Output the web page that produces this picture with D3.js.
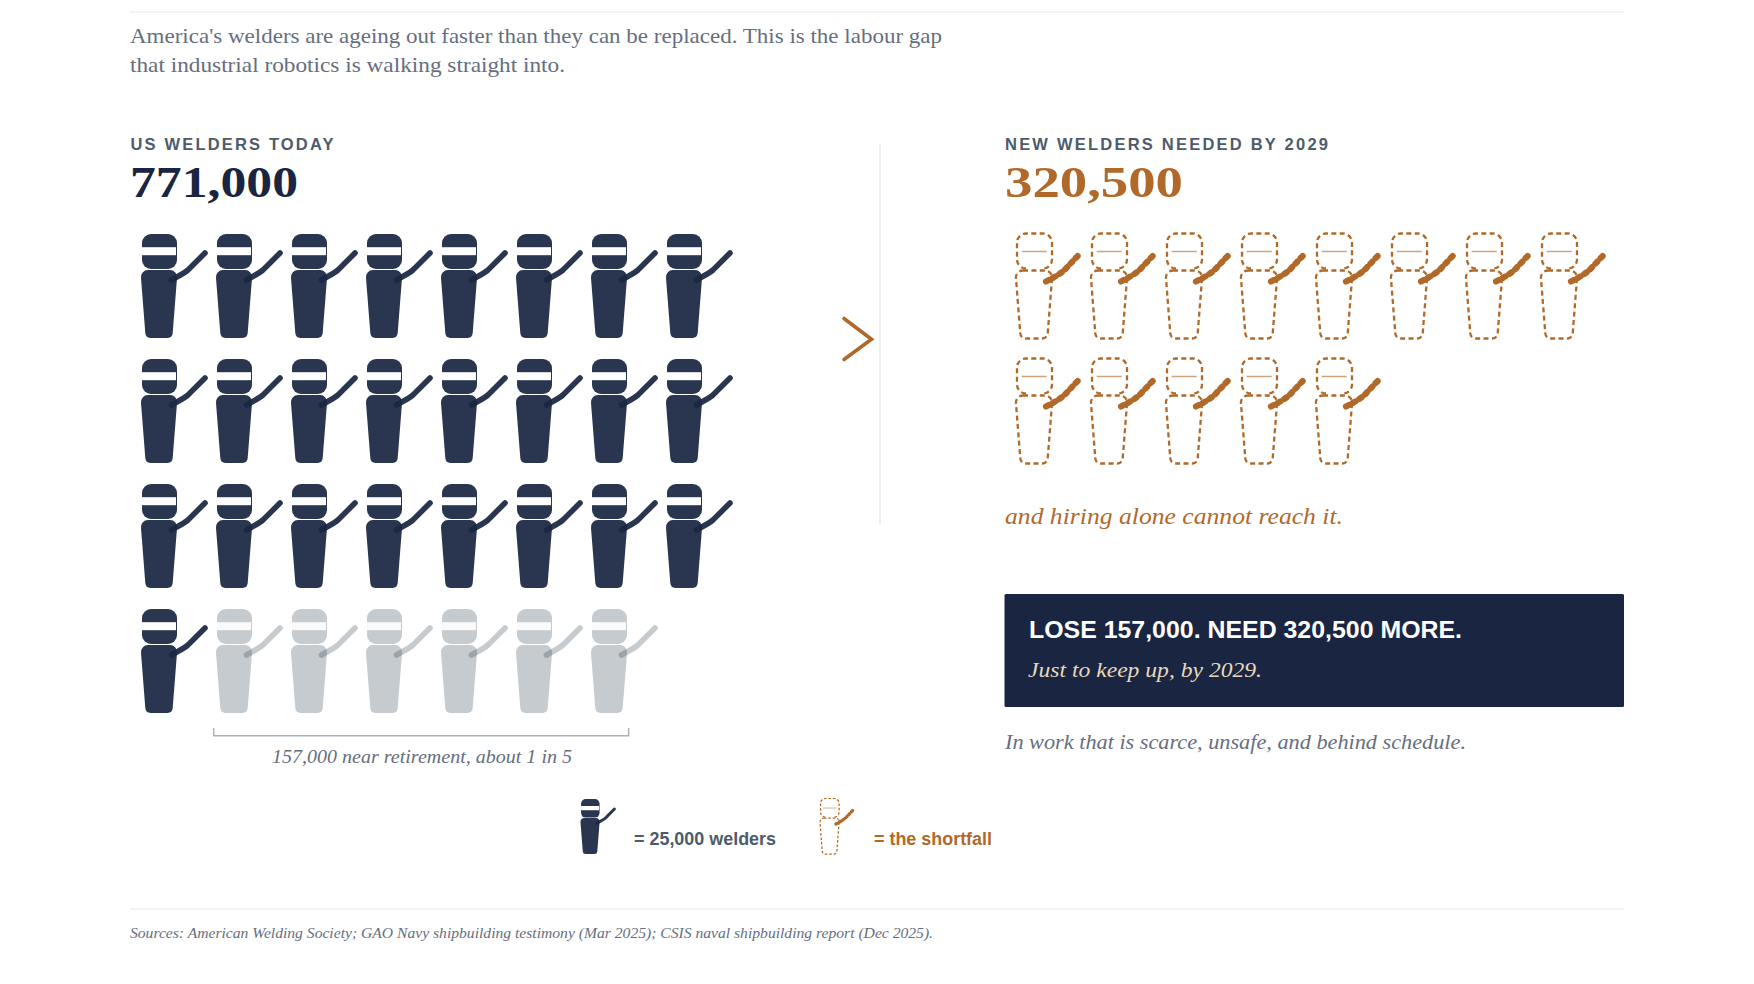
<!DOCTYPE html>
<html>
<head>
<meta charset="utf-8">
<script src="https://cdn.jsdelivr.net/npm/d3@7"></script>
<style>
  html, body { margin: 0; background: #fff; }
  svg { display: block; }
  .serif { font-family: "Liberation Serif", serif; }
  .sans { font-family: "Liberation Sans", sans-serif; font-weight: 700; }
</style>
</head>
<body>
<div id="chart"></div>
<script>
const unitSize = 25000;
const weldersToday = 771000;
const nearRetirement = 157000;
const weldersNeeded = 320500;
const perRow = 8;

const navy = "#1a2542";
const figure = "#1a2742";
const retiredFigure = "#1b2e3f";
const brown = "#b1692a";
const slate = "#4d5b6b";
const muted = "#666e80";

const svg = d3.select("#chart").append("svg")
    .attr("width", 1754)
    .attr("height", 984);

// one little welder, drawn in its own 36 x 105 box
const headPath = "M9,0H26A9,9 0 0 1 35,9V26A9,9 0 0 1 26,35H9A9,9 0 0 1 0,26V9A9,9 0 0 1 9,0Z";
const openHeadPath = "M9,35A9,9 0 0 1 0,26V9A9,9 0 0 1 9,0H26A9,9 0 0 1 35,9V26A9,9 0 0 1 26,35";
const bodyPath = "M7,0H29A7,7 0 0 1 36,8L31.7,63A5.5,5.5 0 0 1 26.5,68H9.5A5.5,5.5 0 0 1 4.3,63L0,8A7,7 0 0 1 7,0Z";
const armPath = "M30.5,46C37,42 42,40 47,36L64,19";

function solidWelder(parent, color, opacity, bandOpacity) {
    parent.append("path").attr("d", headPath)
        .attr("transform", "translate(1,0)")
        .attr("fill", color).attr("opacity", opacity);
    parent.append("rect")
        .attr("x", 1).attr("y", 13.2).attr("width", 34).attr("height", 8)
        .attr("fill", "#fff").attr("opacity", bandOpacity);
    parent.append("path").attr("d", bodyPath)
        .attr("transform", "translate(0,36)")
        .attr("fill", color).attr("opacity", opacity);
    parent.append("path").attr("d", armPath)
        .attr("fill", "none").attr("stroke", color)
        .attr("stroke-width", 5.6).attr("stroke-linecap", "round")
        .attr("opacity", opacity);
}

function dashedWelder(parent, dash) {
    parent.append("path").attr("d", openHeadPath)
        .attr("transform", "translate(1,0)")
        .attr("fill", "none").attr("stroke", brown)
        .attr("stroke-width", 2.3).attr("stroke-dasharray", dash);
    parent.append("line")
        .attr("x1", 5.7).attr("x2", 30.7).attr("y1", 18).attr("y2", 18)
        .attr("stroke", brown).attr("stroke-width", 1.5).attr("opacity", 0.6);
    parent.append("path").attr("d", bodyPath)
        .attr("transform", "translate(0,37)")
        .attr("fill", "none").attr("stroke", brown)
        .attr("stroke-width", 2.3).attr("stroke-dasharray", dash);
    parent.append("path").attr("d", "M30,48C38,44 43,41 48,37L64,20")
        .attr("fill", "none").attr("stroke", brown)
        .attr("stroke-width", 6.2).attr("stroke-linecap", "round")
        .attr("stroke-dasharray", "3 4.6");
}

const rowScale = d3.scaleLinear().domain([0, 3]).range([234, 609]);
const leftColumn = d3.scaleLinear().domain([0, 7]).range([141, 666]);
const rightColumn = d3.scaleLinear().domain([0, 7]).range([1016, 1541]);

const todayCount = Math.round(weldersToday / unitSize);
const retireCount = Math.round(nearRetirement / unitSize);
const neededCount = Math.round(weldersNeeded / unitSize);

function addText(str, x, y, size, fill, cls, opts = {}) {
    return svg.append("text")
        .attr("class", cls)
        .attr("x", x).attr("y", y)
        .attr("font-size", size)
        .attr("fill", fill)
        .attr("font-style", opts.italic ? "italic" : null)
        .attr("font-weight", opts.bold ? 700 : null)
        .attr("textLength", opts.width || null)
        .attr("lengthAdjust", opts.width ? (opts.spacing ? "spacing" : "spacingAndGlyphs") : null)
        .text(str);
}

function rule(x1, x2, y1, y2, color, width) {
    svg.append("line")
        .attr("x1", x1).attr("x2", x2).attr("y1", y1).attr("y2", y2)
        .attr("stroke", color).attr("stroke-width", width);
}

// header
rule(130, 1624, 12, 12, "#e5e7ea", 1.2);
addText("America's welders are ageing out faster than they can be replaced. This is the labour gap", 130, 43, 21.5, muted, "serif", {width: 812});
addText("that industrial robotics is walking straight into.", 130, 72, 21.5, muted, "serif", {width: 435});

// left panel
addText("US WELDERS TODAY", 130.5, 150, 16.5, slate, "sans", {width: 203, spacing: true});
addText(d3.format(",")(weldersToday), 130, 197, 44, navy, "serif", {bold: true, width: 168});

svg.append("g").selectAll("g")
    .data(d3.range(todayCount))
    .join("g")
    .attr("transform", i => `translate(${leftColumn(i % perRow)},${rowScale(Math.floor(i / perRow))})`)
    .each(function (i) {
        const retiring = i >= todayCount - retireCount;
        if (retiring) solidWelder(d3.select(this), retiredFigure, 0.25, 0.9);
        else solidWelder(d3.select(this), figure, 0.93, 1);
    });

// bracket under the retiring welders
const bracketLeft = leftColumn(1) - 2.3;
const bracketRight = leftColumn(6) + 37.6;
svg.append("path")
    .attr("d", `M${bracketLeft},728V735.7H${bracketRight}V728`)
    .attr("fill", "none").attr("stroke", "#adb3ba").attr("stroke-width", 1.5);
addText("157,000 near retirement, about 1 in 5", 272, 763, 18.5, muted, "serif", {italic: true, width: 300});

// divider and chevron
rule(880, 880, 144, 523.5, "#e8eaee", 1.6);
svg.append("path")
    .attr("d", "M844,318.5L871.5,339.3L844,359.5")
    .attr("fill", "none").attr("stroke", brown)
    .attr("stroke-width", 3.6).attr("stroke-linecap", "round").attr("stroke-linejoin", "miter");

// right panel
addText("NEW WELDERS NEEDED BY 2029", 1005, 150, 16.5, slate, "sans", {width: 323, spacing: true});
addText(d3.format(",")(weldersNeeded), 1005, 197, 44, brown, "serif", {bold: true, width: 178});

svg.append("g").selectAll("g")
    .data(d3.range(neededCount))
    .join("g")
    .attr("transform", i => `translate(${rightColumn(i % perRow)},${rowScale(Math.floor(i / perRow)) - 0.5})`)
    .each(function () { dashedWelder(d3.select(this), "5 3.4"); });

addText("and hiring alone cannot reach it.", 1005, 524, 23.5, brown, "serif", {italic: true, width: 338});

svg.append("rect")
    .attr("x", 1004.5).attr("y", 594)
    .attr("width", 619.5).attr("height", 113)
    .attr("rx", 1.5).attr("fill", "#1a2542");
addText("LOSE 157,000. NEED 320,500 MORE.", 1029, 638, 24, "#fff", "sans", {width: 433});
addText("Just to keep up, by 2029.", 1028, 677, 21.5, "#e8d9bc", "serif", {italic: true, width: 234});
addText("In work that is scarce, unsafe, and behind schedule.", 1005, 749, 20.5, muted, "serif", {italic: true, width: 461});

// legend
const legendScale = 0.53;
const legendSolid = svg.append("g").attr("transform", `translate(580.5,799) scale(${legendScale})`);
solidWelder(legendSolid, figure, 0.93, 1);
addText("= 25,000 welders", 634, 845, 18, slate, "sans", {width: 142});

const legendDashed = svg.append("g").attr("transform", `translate(820,798.5) scale(${legendScale})`);
dashedWelder(legendDashed, "5 3.4");
addText("= the shortfall", 874, 845, 18, brown, "sans", {width: 118});

// footer
rule(130, 1624, 909, 909, "#e5e7ea", 1.2);
addText("Sources: American Welding Society; GAO Navy shipbuilding testimony (Mar 2025); CSIS naval shipbuilding report (Dec 2025).", 130, 938, 15, muted, "serif", {italic: true, width: 803});
</script>
</body>
</html>
